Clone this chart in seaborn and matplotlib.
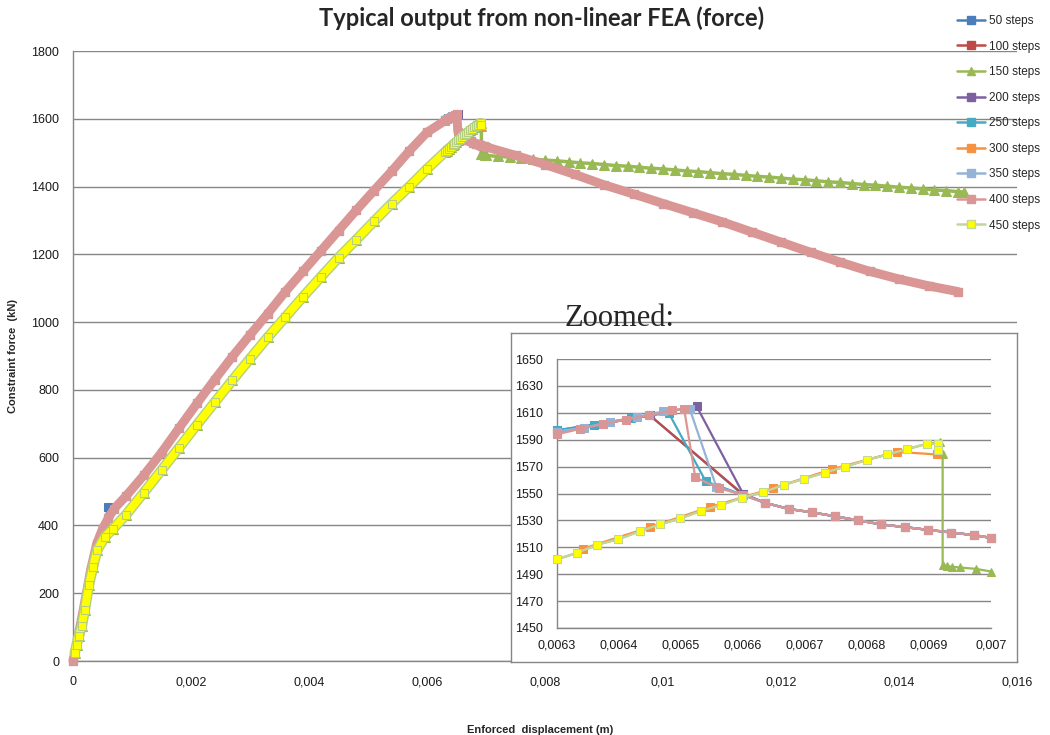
import matplotlib
matplotlib.use("Agg")
import matplotlib.pyplot as plt
import matplotlib.patheffects as pe
from matplotlib.lines import Line2D
import pandas as pd
import seaborn as sns

# values: displacement (m) and constraint force (kN)

# rising branch shared by the 50..400 step runs (350/250/... lie under the 400 run)
rise_up_x = [0, 0.0001, 0.0002, 0.0003, 0.0004, 0.0005, 0.0006, 0.0007, 0.0009,
             0.0012, 0.0015, 0.0018, 0.0021, 0.0024, 0.0027, 0.003, 0.0033,
             0.0036, 0.0039, 0.0042, 0.0045, 0.0048, 0.0051, 0.0054, 0.0057, 0.006]
rise_up_f = [0, 85, 175, 270, 345, 390, 422, 450, 487,
             548, 615, 688, 760, 830, 898, 962, 1025,
             1090, 1150, 1210, 1270, 1330, 1388, 1445, 1505, 1560]
# the 50 step run overshoots at 0.0006
spike_50_f = 455

# peak region, one list per run
peak_50_x = [0.0063, 0.00645, 0.0066]
peak_50_f = [1597, 1608, 1549]
peak_100_x = [0.0063, 0.00645, 0.0066]
peak_100_f = [1596, 1608, 1549.5]
peak_200_x = [0.0063, 0.006375, 0.00645, 0.006525, 0.0066]
peak_200_f = [1596, 1602, 1608, 1615, 1550]
peak_250_x = [0.0063, 0.00636, 0.00642, 0.00648, 0.00654, 0.0066]
peak_250_f = [1597, 1601, 1606, 1610, 1559, 1549]
peak_350_x = [0.0063, 0.006343, 0.006386, 0.006429, 0.006471, 0.006514, 0.006557, 0.0066]
peak_350_f = [1596, 1599, 1603, 1607, 1611, 1613, 1555, 1549]
peak_400_x = [0.0063, 0.006337, 0.006374, 0.006411, 0.006449, 0.006486, 0.006505,
              0.006523, 0.006561, 0.006599]
peak_400_f = [1594, 1598, 1601.5, 1605, 1608, 1612, 1613,
              1562, 1554, 1549]

# softening branch shared by the 50..400 step runs
fall_x = [0.006636, 0.006674, 0.006711, 0.006749, 0.006786, 0.006823, 0.006861,
          0.006898, 0.006936, 0.006973, 0.007, 0.0075, 0.008, 0.0085, 0.009,
          0.0095, 0.01, 0.0105, 0.011, 0.0115, 0.012, 0.0125, 0.013, 0.0135,
          0.014, 0.0145, 0.015]
fall_f = [1543, 1538.5, 1536, 1533, 1530, 1527, 1525,
          1523, 1521, 1519, 1517, 1492, 1465, 1436, 1405,
          1378, 1350, 1323, 1296, 1266, 1236, 1206, 1177, 1150,
          1127, 1107, 1090]

# lower rising branch (150, 300 and 450 step runs)
rise_lo_x = [0.00003, 0.00006, 0.0001, 0.00015, 0.0002, 0.00027, 0.00034, 0.00041,
             0.00054, 0.00068, 0.0009, 0.0012, 0.0015, 0.0018, 0.0021, 0.0024,
             0.0027, 0.003, 0.0033, 0.0036, 0.0039, 0.0042, 0.0045, 0.0048,
             0.0051, 0.0054, 0.0057, 0.006]
rise_lo_f = [24, 47, 75, 103, 150, 224, 278, 327,
             366, 390, 432, 497, 563, 630, 697, 763,
             828, 892, 955, 1015, 1075, 1133, 1190, 1243,
             1297, 1350, 1400, 1452]
lo_450_x = [0.0063, 0.006333, 0.006365, 0.006399, 0.006434, 0.006466, 0.006499,
            0.006532, 0.006565, 0.006599, 0.006633, 0.006666, 0.006699, 0.006732,
            0.006765, 0.0068, 0.006833, 0.006865, 0.006897]
lo_450_f = [1501, 1506, 1512, 1516, 1522, 1527, 1531.5,
            1537, 1541.5, 1547, 1551, 1556.5, 1561, 1565.5,
            1570, 1575, 1579, 1583, 1587]
end_450_x = [0.006914, 0.006914]
end_450_f = [1587, 1582]
lo_300_x = [0.006342, 0.00645, 0.006547, 0.006649, 0.006743, 0.006848, 0.006913]
lo_300_f = [1509, 1525, 1540, 1554, 1568, 1581, 1579]
drop_150_x = [0.006918, 0.006922, 0.006922, 0.006929, 0.006937, 0.00695, 0.006975, 0.007]
drop_150_f = [1588, 1579, 1497, 1496, 1495.5, 1495, 1494, 1492]
tail_150_x = [0.0072, 0.0074, 0.0076, 0.0078, 0.008, 0.0082, 0.0084, 0.0086, 0.0088,
              0.009, 0.0092, 0.0094, 0.0096, 0.0098, 0.01, 0.0102, 0.0104, 0.0106,
              0.0108, 0.011, 0.0112, 0.0114, 0.0116, 0.0118, 0.012, 0.0122, 0.0124,
              0.0126, 0.0128, 0.013, 0.0132, 0.0134, 0.0136, 0.0138, 0.014, 0.0142,
              0.0144, 0.0146, 0.0148, 0.015, 0.0151]
tail_150_f = [1489, 1487, 1484, 1481, 1478, 1476, 1473, 1470, 1468,
              1465, 1462, 1460, 1457, 1454, 1452, 1449, 1446, 1444,
              1441, 1438, 1436, 1433, 1430, 1428, 1425, 1422, 1420,
              1417, 1414, 1412, 1409, 1406, 1404, 1401, 1398, 1396,
              1393, 1390, 1388, 1385, 1384]

labels = ["50 steps", "100 steps", "150 steps", "200 steps", "250 steps",
          "300 steps", "350 steps", "400 steps", "450 steps"]
colors = ["#4A7EBB", "#BE4B48", "#98B954", "#7D60A0", "#46AAC5",
          "#F69240", "#95B3D7", "#D99694", "#C3D69B"]
markers = ["s", "s", "^", "s", "s", "s", "s", "s", "s"]

main_xticks = [0, 0.002, 0.004, 0.006, 0.008, 0.01, 0.012, 0.014, 0.016]
main_xlabels = ["0", "0,002", "0,004", "0,006", "0,008", "0,01", "0,012", "0,014", "0,016"]
main_yticks = [0, 200, 400, 600, 800, 1000, 1200, 1400, 1600, 1800]
zoom_xticks = [0.0063, 0.0064, 0.0065, 0.0066, 0.0067, 0.0068, 0.0069, 0.007]
zoom_xlabels = ["0,0063", "0,0064", "0,0065", "0,0066", "0,0067", "0,0068", "0,0069", "0,007"]
zoom_yticks = [1450, 1470, 1490, 1510, 1530, 1550, 1570, 1590, 1610, 1630, 1650]

# assemble the runs
f50_rise = list(rise_up_f)
f50_rise[rise_up_x.index(0.0006)] = spike_50_f
runs = {
    "50 steps": (rise_up_x + peak_50_x + fall_x, f50_rise + peak_50_f + fall_f),
    "100 steps": (rise_up_x + peak_100_x + fall_x, rise_up_f + peak_100_f + fall_f),
    "150 steps": (rise_lo_x + lo_450_x + drop_150_x + tail_150_x,
                  rise_lo_f + lo_450_f + drop_150_f + tail_150_f),
    "200 steps": (rise_up_x + peak_200_x + fall_x, rise_up_f + peak_200_f + fall_f),
    "250 steps": (rise_up_x + peak_250_x + fall_x, rise_up_f + peak_250_f + fall_f),
    "300 steps": (rise_lo_x + lo_300_x, rise_lo_f + lo_300_f),
    "350 steps": (rise_up_x + peak_350_x + fall_x, rise_up_f + peak_350_f + fall_f),
    "400 steps": (rise_up_x + peak_400_x + fall_x, rise_up_f + peak_400_f + fall_f),
    "450 steps": (rise_lo_x + lo_450_x + end_450_x, rise_lo_f + lo_450_f + end_450_f),
}
frames = []
for lab in labels:
    xs, fs = runs[lab]
    frames.append(pd.DataFrame({"disp": xs, "force": fs, "run": lab}))
df = pd.concat(frames, ignore_index=True)

sns.set_theme(style="white")
plt.rcParams["font.family"] = ["Liberation Sans", "DejaVu Sans"]
GRID = "#868686"
YELLOW = "#FFFF00"

fig = plt.figure(figsize=(10.5, 7.35), dpi=100)
ax = fig.add_axes([73 / 1050, 1 - 661 / 735, 944 / 1050, 610 / 735])


def style_axes(a):
    for side in ["top", "right"]:
        a.spines[side].set_visible(False)
    for side in ["left", "bottom"]:
        a.spines[side].set_color(GRID)
        a.spines[side].set_linewidth(1)
    a.yaxis.grid(True, color=GRID, linewidth=1)
    a.xaxis.grid(False)
    a.set_axisbelow(True)


# main chart
style_axes(ax)
for i, lab in enumerate(labels):
    d = df[df["run"] == lab]
    if lab == "450 steps":
        # dense yellow squares read as a thick band with green edges
        sns.lineplot(data=d, x="disp", y="force", sort=False, estimator=None, ax=ax,
                     color=YELLOW, linewidth=5.5, clip_on=False, zorder=3 + i,
                     path_effects=[pe.Stroke(linewidth=7.5, foreground="#B5CF82"), pe.Normal()])
        sns.lineplot(data=d, x="disp", y="force", sort=False, estimator=None, ax=ax,
                     color=YELLOW, linestyle="", marker="s", markersize=5.8,
                     markerfacecolor=YELLOW, markeredgecolor="#B5CF82",
                     clip_on=False, zorder=3.5 + i)
        continue
    kw = dict(color=colors[i], marker=markers[i], markersize=5.8,
              markeredgecolor=colors[i], linewidth=1.5, clip_on=False, zorder=3 + i)
    if lab == "400 steps":
        kw["linewidth"] = 6.5
    if lab == "150 steps":
        kw["linewidth"] = 2.5
        kw["markersize"] = 6.5
    sns.lineplot(data=d, x="disp", y="force", sort=False, estimator=None, ax=ax, **kw)

ax.set_xlim(0, 0.016)
ax.set_ylim(0, 1800)
ax.set_xticks(main_xticks)
ax.set_xticklabels(main_xlabels)
ax.set_yticks(main_yticks)
ax.tick_params(axis="both", length=0, labelsize=9, colors="#1a1a1a")
ax.tick_params(axis="x", pad=11)
ax.tick_params(axis="y", pad=10)
ax.set_xlabel("Enforced  displacement (m)", fontsize=8, fontweight="bold")
ax.set_ylabel("Constraint force  (kN)", fontsize=8, fontweight="bold")
ax.xaxis.set_label_coords(0.495, -0.105)
ax.yaxis.set_label_coords(-0.058, 0.5)

fig.text(542 / 1050, 1 - 18 / 735, "Typical output from non-linear FEA (force)",
         ha="center", va="center", fontsize=17, fontweight="bold",
         family=["Lato", "DejaVu Sans"])

# zoomed chart in a framed box
box = fig.add_axes([511 / 1050, 1 - 662 / 735, 506 / 1050, 329 / 735], zorder=5)
box.set_xticks([])
box.set_yticks([])
box.set_facecolor("white")
for s in box.spines.values():
    s.set_color(GRID)
    s.set_linewidth(1)

ins = fig.add_axes([557 / 1050, 1 - 628 / 735, 434 / 1050, 269 / 735], zorder=6)
ins.set_facecolor("none")
style_axes(ins)
near_peak = df[(df["disp"] >= 0.0063) & (df["disp"] <= 0.007)]
for i, lab in enumerate(labels):
    d = near_peak[near_peak["run"] == lab]
    face = YELLOW if lab == "450 steps" else colors[i]
    sns.lineplot(data=d, x="disp", y="force", sort=False, estimator=None, ax=ins,
                 color=colors[i], marker=markers[i], markersize=5.8,
                 markerfacecolor=face, markeredgecolor=colors[i],
                 linewidth=1.6, clip_on=False, zorder=3 + i)
ins.set_xlim(0.0063, 0.007)
ins.set_ylim(1450, 1650)
ins.set_xticks(zoom_xticks)
ins.set_xticklabels(zoom_xlabels)
ins.set_yticks(zoom_yticks)
ins.tick_params(axis="both", length=0, labelsize=9, colors="#1a1a1a")
ins.tick_params(axis="x", pad=8)
ins.tick_params(axis="y", pad=10)
ins.set_xlabel("")
ins.set_ylabel("")

fig.text(565 / 1050, 1 - 318 / 735, "Zoomed:", ha="left", va="center", fontsize=22,
         family=["Liberation Serif", "DejaVu Serif"], zorder=7)

# legend
handles = []
for i, lab in enumerate(labels):
    face = YELLOW if lab == "450 steps" else colors[i]
    handles.append(Line2D([0], [0], color=colors[i], marker=markers[i], markersize=6,
                          markerfacecolor=face, markeredgecolor=colors[i], linewidth=1.8))
fig.legend(handles, labels, loc="upper left", bbox_to_anchor=(957 / 1050, 1 - 15 / 735),
           frameon=False, fontsize=8.5, handlelength=2.4, handletextpad=0.3,
           labelspacing=1.15, borderpad=0, borderaxespad=0)

fig.savefig("out.png", dpi=100)
